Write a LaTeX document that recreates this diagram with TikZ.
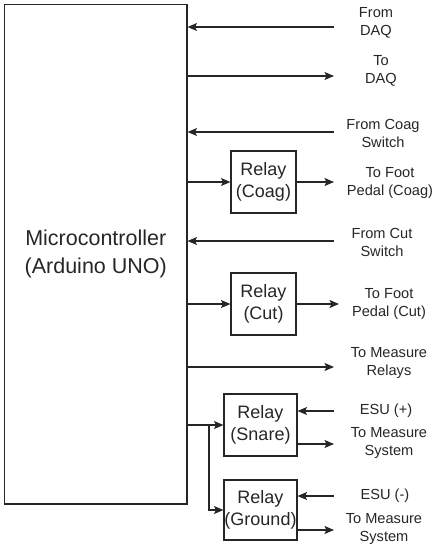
\documentclass[tikz,border=0pt]{standalone}
\usepackage{fontspec}
\setmainfont{Liberation Sans}
\usepackage{tikz}
\usetikzlibrary{arrows.meta,positioning}
\usepackage{xcolor}
\definecolor{Ink}{HTML}{262626}

\begin{document}
\begin{tikzpicture}[x=1pt,y=-1pt,color=Ink,
  every node/.style={font=\fontsize{14.6}{18}\selectfont,align=center,text=Ink},
  relaybox/.style={draw=Ink,line width=1.1pt,inner sep=0pt,font=\fontsize{18}{21.5}\selectfont},
  wire/.style={line width=1.1pt,-{Stealth[length=9.5pt,width=8pt,inset=2pt]}}]
  \useasboundingbox (0,0) rectangle (437,550);
  \node[relaybox,minimum width=182.5,minimum height=499.5,font=\fontsize{21.5}{28}\selectfont] (mcu) at (95.75,254.25) {Microcontroller\\(Arduino UNO)};
  \node[relaybox,minimum width=65,minimum height=62] (coag) at (263.5,182) {Relay\\(Coag)};
  \node[relaybox,minimum width=65,minimum height=62] (cut) at (263.5,304) {Relay\\(Cut)};
  \node[relaybox,minimum width=73,minimum height=62] (snare) at (260.5,425) {Relay\\(Snare)};
  \node[relaybox,minimum width=73,minimum height=60] (ground) at (260.5,510) {Relay\\(Ground)};
  \foreach \n/\y in {fdaq/27,fcoag/132,fcut/241}{
    \coordinate (\n) at (334,\y);
    \draw[wire] (\n) -- (\n -| mcu.east);
  }
  \foreach \n/\y in {tdaq/76,tmeas/367}{
    \coordinate (\n) at (334,\y);
    \draw[wire] (\n -| mcu.east) -- (\n);
  }
  \coordinate (coagout) at (334,182);
  \coordinate (cutout) at (339,304);
  \draw[wire] (coag.west -| mcu.east) -- (coag.west);
  \draw[wire] (coag.east) -- (coagout);
  \draw[wire] (cut.west -| mcu.east) -- (cut.west);
  \draw[wire] (cut.east) -- (cutout);
  \coordinate (split) at (209,425);
  \draw[wire] (split -| mcu.east) -- (snare.west);
  \draw[wire] (split) |- (ground.west);
  \coordinate (esup) at (334,411);
  \coordinate (snout) at (334,444);
  \coordinate (esum) at (334,496);
  \coordinate (grout) at (334,530);
  \draw[wire] (esup) -- (esup -| snare.east);
  \draw[wire] (snout -| snare.east) -- (snout);
  \draw[wire] (esum) -- (esum -| ground.east);
  \draw[wire] (grout -| ground.east) -- (grout);
  \node (lfdaq) at (376,23) {From\\DAQ};
  \node (ltdaq) at (381,71) {To\\DAQ};
  \node (lfcoag) at (383,133) {From Coag\\Switch};
  \node (lcoag) at (390,182.5) {To Foot\\Pedal (Coag)};
  \node (lfcut) at (382,242) {From Cut\\Switch};
  \node (lcut) at (389,303.5) {To Foot\\Pedal (Cut)};
  \node (ltmeas) at (389,363) {To Measure\\Relays};
  \node (lesup) at (386,411) {ESU (+)};
  \node (lsnout) at (389,443) {To Measure\\System};
  \node (lesum) at (385,496) {ESU (-)};
  \node (lgrout) at (384,528.5) {To Measure\\System};
\end{tikzpicture}
\end{document}
